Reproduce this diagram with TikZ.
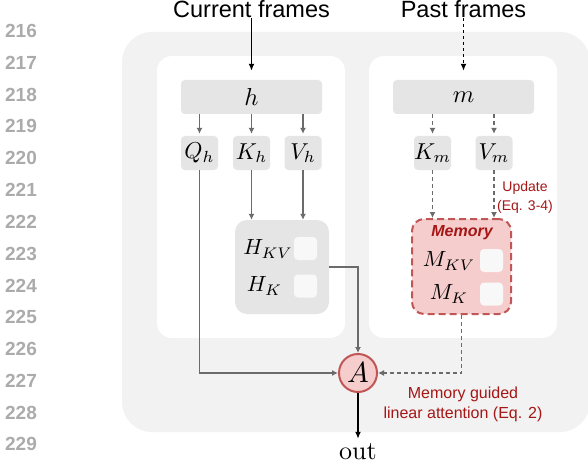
\documentclass[tikz,border=0pt]{standalone}
\usepackage[no-math]{fontspec}
\newfontfamily\arial{Liberation Sans}
\usetikzlibrary{
    calc,
    positioning,
    arrows.meta%
}
\newcommand{\bigMath}[2][2.3]{\scalebox{#1}{$#2$}}
\definecolor{outerGray}{HTML}{F2F2F2}
\definecolor{boxGray}{HTML}{E5E5E5}
\definecolor{slotGray}{HTML}{F8F8F8}
\definecolor{arrowGray}{HTML}{6B6B6B}
\definecolor{memFill}{HTML}{F6CDCD}
\definecolor{memDraw}{HTML}{C05656}
\definecolor{noteRed}{HTML}{A51616}
\definecolor{numGray}{HTML}{ABABAB}
\tikzset{
    >={Latex[length=6pt,width=6pt]},
    % Panels
    outerPanel/.style={
        fill=outerGray,
        rounded corners=30pt
    },
    panel/.style={
        fill=white,
        rounded corners=15pt
    },
    % Feature boxes
    feat/.style={
        fill=boxGray,
        rounded corners=4pt,
        inner sep=0pt,
        minimum width=141pt,
        minimum height=34pt
    },
    proj/.style={
        feat,
        minimum width=37pt
    },
    cacheBox/.style={
        fill=boxGray,
        rounded corners=12pt,
        minimum width=94pt,
        minimum height=94pt
    },
    memBox/.style={
        cacheBox,
        fill=memFill,
        draw=memDraw,
        line width=2pt,
        dash pattern=on 7pt off 4pt,
        minimum width=99pt,
        minimum height=95pt
    },
    slot/.style={
        fill=slotGray,
        rounded corners=4pt,
        minimum size=23pt,
        inner sep=0pt
    },
    cacheName/.style={
        inner sep=0pt
    },
    memName/.style={
        inner sep=0pt,
        text=noteRed,
        font=\arial\bfseries\itshape\fontsize{16}{19}\selectfont
    },
    attnNode/.style={
        circle,
        fill=memFill,
        draw=memDraw,
        line width=2pt,
        minimum size=38pt,
        inner sep=0pt
    },
    outName/.style={
        inner sep=2pt
    },
    frameName/.style={
        inner sep=0pt,
        font=\arial\fontsize{23.5}{28}\selectfont
    },
    redNote/.style={
        align=center,
        inner sep=0pt,
        text=noteRed,
        font=\arial\fontsize{16}{20}\selectfont
    },
    updNote/.style={
        redNote,
        font=\arial\fontsize{14}{19}\selectfont
    },
    lineNum/.style={
        inner sep=0pt,
        text=numGray,
        font=\arial\bfseries\fontsize{19}{21}\selectfont
    },
    % Connectors
    grayArrow/.style={
        ->,
        draw=arrowGray,
        line width=1.2pt,
        >={Latex[length=6pt,width=6pt]}
    },
    grayDash/.style={
        grayArrow,
        dash pattern=on 4pt off 3pt
    },
    frameArrow/.style={
        ->,
        line width=1.5pt,
        >={Latex[length=7pt,width=6pt]}
    }
}

\begin{document}
\begin{tikzpicture}[x=1pt,y=-1pt]

    \useasboundingbox (0,0) rectangle (588,465);

    \fill[outerPanel] (122,32) rectangle (590,432);
    \fill[panel] (157,56) rectangle (345,338);
    \fill[panel] (369,56) rectangle (557,338);

    \foreach \n in {216,...,229}
        \node[lineNum] (num\n) at (21,{31+(\n-216)*31.8}) {\n};

    \node[frameName, anchor=base] (curFrames) at (251.5,18) {Current frames};
    \node[frameName, anchor=base] (pastFrames) at (463.5,18) {Past frames};

    \node[feat] (hFeat) at (251.5,97) {\bigMath[2.45]{h}};
    \node[feat] (mFeat) at (463.5,97) {\bigMath[2.45]{m}};

    \node[proj] (qH) at (199.5,153) {\bigMath{Q_h}};
    \node[proj] (kH) at (251.5,153) {\bigMath{K_h}};
    \node[proj] (vH) at (303,153) {\bigMath{V_h}};
    \node[proj] (kM) at (432.5,153) {\bigMath{K_m}};
    \node[proj] (vM) at (494,153) {\bigMath{V_m}};

    \node[cacheBox] (hCache) at (282,267) {};
    \node[slot] (hSlotKV) at (305.5,248.5) {};
    \node[slot] (hSlotK) at (305.5,286) {};
    \node[cacheName] (hKV) at (268,249) {\bigMath[2.2]{H_{KV}}};
    \node[cacheName] (hK) at (264.5,286) {\bigMath[2.2]{H_K}};

    \node[memBox] (memBank) at (461.5,266.5) {};
    \node[memName] (memTitle) at (462,233) {Memory};
    \node[slot] (mSlotKV) at (491.5,260.5) {};
    \node[slot] (mSlotK) at (491.5,294) {};
    \node[cacheName] (mKV) at (449,261) {\bigMath[2.2]{M_{KV}}};
    \node[cacheName] (mK) at (449,294) {\bigMath[2.2]{M_K}};

    \node[attnNode] (attn) at (358,373) {\bigMath[2.9]{A}};
    \node[outName, anchor=base] (out) at (358,459) {\scalebox{2.6}{out}};

    \node[updNote] (updText) at (525,197) {Update\\(Eq. 3-4)};
    \node[redNote] (attnText) at (463,404) {Memory guided\\linear attention (Eq. 2)};

    \draw[frameArrow, shorten >=9pt] (curFrames) -- (hFeat);
    \draw[frameArrow, dashed, shorten >=9pt] (pastFrames) -- (mFeat);

    \draw[grayArrow, shorten >=2pt] (qH.north |- hFeat.south) -- (qH);
    \draw[grayArrow, shorten >=2pt] (kH.north |- hFeat.south) -- (kH);
    \draw[grayArrow, shorten >=2pt] (vH.north |- hFeat.south) -- (vH);
    \draw[grayDash, shorten >=2pt] (kM.north |- mFeat.south) -- (kM);
    \draw[grayDash, shorten >=2pt] (vM.north |- mFeat.south) -- (vM);

    \draw[grayArrow] (kH) -- (kH |- hCache.north);
    \draw[grayArrow] (vH) -- (vH |- hCache.north);
    \draw[grayDash] (kM) -- (kM |- memBank.north);
    \draw[grayDash] (vM) -- (vM |- memBank.north);

    \draw[grayArrow] (qH) |- (attn);
    \draw[grayArrow] (hCache.east) -| (attn);
    \draw[grayDash] (memBank) |- (attn);
    \draw[frameArrow, shorten >=2pt] (attn) -- (out);

\end{tikzpicture}
\end{document}
